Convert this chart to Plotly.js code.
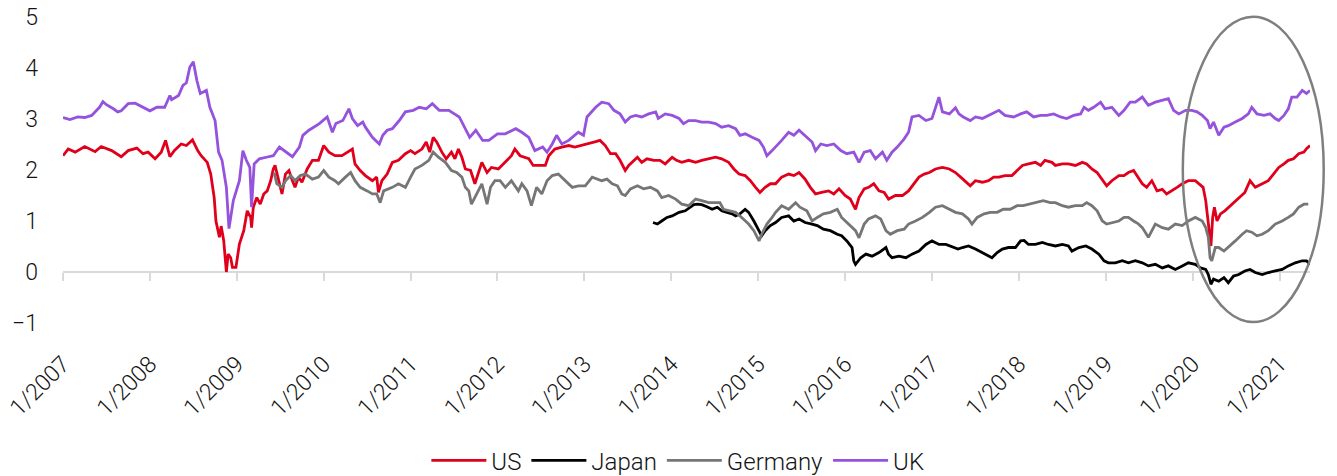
<!DOCTYPE html>
<html>
<head>
<meta charset="utf-8">
<script src="https://cdn.plot.ly/plotly-3.0.1.min.js"></script>
<style>
  html, body { margin: 0; padding: 0; background: #ffffff; }
  #chart { width: 1337px; height: 476px; }
</style>
</head>
<body>
<div id="chart"></div>
<script>
// ---- Tick labels ----
const yearTicks = [2007, 2008, 2009, 2010, 2011, 2012, 2013, 2014, 2015, 2016, 2017, 2018, 2019, 2020, 2021];
const yearTickLabels = ["1/2007", "1/2008", "1/2009", "1/2010", "1/2011", "1/2012", "1/2013", "1/2014", "1/2015", "1/2016", "1/2017", "1/2018", "1/2019", "1/2020", "1/2021"];
const yTicks = [-1, 0, 1, 2, 3, 4, 5];

// ---- US (time in decimal years, value) ----
const usTime = [2007.00, 2007.06, 2007.14, 2007.25, 2007.37, 2007.44, 2007.56, 2007.67, 2007.75, 2007.85, 2007.92, 2007.98,
  2008.06, 2008.13, 2008.18, 2008.23, 2008.28, 2008.36, 2008.42, 2008.49, 2008.55, 2008.59, 2008.66, 2008.70, 2008.74, 2008.76,
  2008.80, 2008.82, 2008.85, 2008.88, 2008.90, 2008.93, 2008.95, 2008.99, 2009.03, 2009.08, 2009.12, 2009.16, 2009.17, 2009.19,
  2009.23, 2009.27, 2009.31, 2009.35, 2009.39, 2009.42, 2009.44, 2009.48, 2009.52, 2009.56, 2009.60, 2009.64, 2009.67, 2009.71,
  2009.75, 2009.81, 2009.87, 2009.94, 2010.00, 2010.06, 2010.13, 2010.21, 2010.27, 2010.33, 2010.36, 2010.42, 2010.48, 2010.56,
  2010.61, 2010.63, 2010.67, 2010.73, 2010.79, 2010.86, 2010.94, 2011.00, 2011.05, 2011.13, 2011.18, 2011.22, 2011.26, 2011.30,
  2011.36, 2011.41, 2011.47, 2011.51, 2011.55, 2011.59, 2011.63, 2011.69, 2011.74, 2011.78, 2011.82, 2011.88, 2011.93, 2012.01,
  2012.09, 2012.16, 2012.20, 2012.26, 2012.36, 2012.41, 2012.47, 2012.55, 2012.59, 2012.66, 2012.74, 2012.82, 2012.89, 2012.97,
  2013.05, 2013.12, 2013.18, 2013.24, 2013.30, 2013.36, 2013.41, 2013.47, 2013.51, 2013.57, 2013.61, 2013.66, 2013.72, 2013.80,
  2013.87, 2013.93, 2014.01, 2014.06, 2014.12, 2014.20, 2014.28, 2014.35, 2014.43, 2014.51, 2014.58, 2014.66, 2014.72, 2014.78,
  2014.85, 2014.91, 2014.97, 2015.02, 2015.08, 2015.14, 2015.20, 2015.27, 2015.35, 2015.41, 2015.47, 2015.54, 2015.60, 2015.66,
  2015.73, 2015.81, 2015.87, 2015.93, 2016.00, 2016.06, 2016.12, 2016.16, 2016.22, 2016.27, 2016.33, 2016.39, 2016.45, 2016.50,
  2016.58, 2016.66, 2016.73, 2016.79, 2016.85, 2016.91, 2016.97, 2017.04, 2017.12, 2017.20, 2017.27, 2017.33, 2017.38, 2017.44,
  2017.50, 2017.58, 2017.65, 2017.71, 2017.77, 2017.84, 2017.92, 2017.98, 2018.04, 2018.11, 2018.19, 2018.25, 2018.30, 2018.38,
  2018.42, 2018.50, 2018.57, 2018.65, 2018.73, 2018.78, 2018.84, 2018.90, 2018.96, 2019.01, 2019.07, 2019.15, 2019.21, 2019.26,
  2019.32, 2019.38, 2019.42, 2019.47, 2019.53, 2019.59, 2019.65, 2019.70, 2019.76, 2019.82, 2019.88, 2019.95, 2020.03, 2020.09,
  2020.12, 2020.15, 2020.17, 2020.20, 2020.21, 2020.23, 2020.25, 2020.28, 2020.32, 2020.37, 2020.45, 2020.53, 2020.60, 2020.66,
  2020.72, 2020.80, 2020.87, 2020.93, 2020.99, 2021.05, 2021.10, 2021.16, 2021.22, 2021.28, 2021.31, 2021.35];
const usValue = [2.28, 2.41, 2.35, 2.46, 2.36, 2.46, 2.38, 2.26, 2.38, 2.43, 2.32, 2.35,
  2.22, 2.35, 2.58, 2.26, 2.38, 2.51, 2.48, 2.59, 2.38, 2.28, 2.15, 1.92, 1.46, 1.00,
  0.68, 0.90, 0.61, 0.00, 0.35, 0.28, 0.09, 0.09, 0.55, 0.81, 1.20, 1.07, 0.87, 1.27,
  1.46, 1.33, 1.53, 1.59, 1.79, 2.02, 2.09, 1.79, 1.53, 1.92, 1.99, 1.79, 1.66, 1.86,
  1.76, 2.02, 2.19, 2.19, 2.48, 2.35, 2.28, 2.28, 2.35, 2.41, 2.12, 1.99, 1.89, 1.79,
  1.86, 1.56, 1.79, 1.92, 2.15, 2.19, 2.32, 2.38, 2.32, 2.41, 2.55, 2.35, 2.64, 2.55,
  2.35, 2.22, 2.35, 2.22, 2.41, 2.25, 2.02, 1.99, 1.73, 1.92, 2.15, 1.95, 2.05, 2.02,
  2.15, 2.28, 2.41, 2.28, 2.22, 2.09, 2.09, 2.09, 2.28, 2.41, 2.45, 2.48, 2.45, 2.48,
  2.51, 2.55, 2.58, 2.48, 2.32, 2.32, 2.19, 1.99, 2.09, 2.19, 2.25, 2.15, 2.22, 2.19,
  2.19, 2.12, 2.25, 2.19, 2.15, 2.19, 2.15, 2.19, 2.22, 2.25, 2.22, 2.15, 2.02, 1.92,
  1.89, 1.79, 1.66, 1.56, 1.66, 1.73, 1.73, 1.86, 1.92, 1.89, 1.95, 1.82, 1.66, 1.53,
  1.56, 1.59, 1.53, 1.63, 1.50, 1.43, 1.23, 1.46, 1.63, 1.66, 1.73, 1.59, 1.56, 1.43,
  1.50, 1.50, 1.59, 1.73, 1.86, 1.92, 1.95, 2.02, 2.05, 2.02, 1.95, 1.86, 1.79, 1.69,
  1.79, 1.76, 1.79, 1.86, 1.86, 1.89, 1.89, 1.99, 2.09, 2.12, 2.15, 2.09, 2.19, 2.15,
  2.09, 2.12, 2.12, 2.09, 2.15, 2.12, 2.02, 1.95, 1.82, 1.69, 1.79, 1.89, 1.89, 1.95,
  1.99, 1.82, 1.73, 1.66, 1.79, 1.59, 1.62, 1.53, 1.59, 1.66, 1.73, 1.79, 1.79, 1.69,
  1.66, 1.40, 1.07, 0.61, 0.51, 1.07, 1.27, 1.00, 1.14, 1.20, 1.33, 1.46, 1.56, 1.79,
  1.66, 1.73, 1.79, 1.92, 2.05, 2.12, 2.19, 2.22, 2.32, 2.35, 2.42, 2.48];

// ---- Japan ----
const japanTime = [2013.79, 2013.84, 2013.89, 2013.95, 2014.01, 2014.09, 2014.16, 2014.22, 2014.26, 2014.30, 2014.35, 2014.41,
  2014.47, 2014.53, 2014.58, 2014.64, 2014.70, 2014.74, 2014.79, 2014.85, 2014.89, 2014.95, 2015.01, 2015.04, 2015.08, 2015.14,
  2015.20, 2015.27, 2015.35, 2015.41, 2015.47, 2015.54, 2015.62, 2015.68, 2015.75, 2015.83, 2015.91, 2015.96, 2016.02, 2016.08,
  2016.10, 2016.12, 2016.18, 2016.24, 2016.31, 2016.39, 2016.47, 2016.50, 2016.54, 2016.62, 2016.70, 2016.77, 2016.85, 2016.93,
  2017.00, 2017.08, 2017.16, 2017.24, 2017.30, 2017.35, 2017.42, 2017.50, 2017.58, 2017.65, 2017.69, 2017.75, 2017.81, 2017.88,
  2017.96, 2018.02, 2018.06, 2018.11, 2018.19, 2018.27, 2018.34, 2018.42, 2018.50, 2018.57, 2018.61, 2018.69, 2018.77, 2018.84,
  2018.92, 2018.98, 2019.03, 2019.11, 2019.19, 2019.26, 2019.34, 2019.42, 2019.49, 2019.57, 2019.65, 2019.72, 2019.80, 2019.88,
  2019.95, 2020.03, 2020.09, 2020.15, 2020.18, 2020.21, 2020.24, 2020.30, 2020.36, 2020.41, 2020.47, 2020.53, 2020.60, 2020.66,
  2020.72, 2020.80, 2020.87, 2020.95, 2021.03, 2021.10, 2021.18, 2021.26, 2021.31, 2021.35];
const japanValue = [0.97, 0.94, 1.00, 1.07, 1.10, 1.17, 1.20, 1.27, 1.32, 1.33, 1.32, 1.28,
  1.23, 1.27, 1.20, 1.17, 1.14, 1.10, 1.14, 1.23, 1.17, 1.00, 0.81, 0.71, 0.81, 0.91,
  0.97, 1.07, 1.10, 1.00, 1.04, 0.97, 0.94, 0.91, 0.84, 0.81, 0.74, 0.71, 0.61, 0.48,
  0.22, 0.15, 0.28, 0.35, 0.31, 0.38, 0.48, 0.35, 0.28, 0.31, 0.28, 0.35, 0.41, 0.54,
  0.61, 0.54, 0.54, 0.48, 0.45, 0.48, 0.51, 0.45, 0.38, 0.31, 0.28, 0.38, 0.45, 0.48,
  0.48, 0.61, 0.62, 0.54, 0.54, 0.58, 0.54, 0.51, 0.54, 0.51, 0.41, 0.48, 0.51, 0.45,
  0.35, 0.22, 0.18, 0.18, 0.22, 0.18, 0.22, 0.18, 0.12, 0.15, 0.08, 0.12, 0.05, 0.12,
  0.18, 0.15, 0.08, 0.05, -0.05, -0.24, -0.14, -0.18, -0.11, -0.21, -0.08, -0.05, 0.02, 0.05,
  -0.01, -0.05, -0.01, 0.02, 0.05, 0.12, 0.18, 0.22, 0.22, 0.15];

// ---- Germany ----
const germanyTime = [2009.43, 2009.46, 2009.52, 2009.56, 2009.62, 2009.67, 2009.73, 2009.79, 2009.87, 2009.94, 2010.00, 2010.06,
  2010.13, 2010.17, 2010.25, 2010.31, 2010.36, 2010.42, 2010.50, 2010.56, 2010.61, 2010.65, 2010.69, 2010.79, 2010.86, 2010.94,
  2011.00, 2011.05, 2011.13, 2011.21, 2011.26, 2011.32, 2011.40, 2011.44, 2011.47, 2011.53, 2011.59, 2011.63, 2011.67, 2011.70,
  2011.76, 2011.82, 2011.88, 2011.92, 2011.97, 2012.03, 2012.09, 2012.16, 2012.24, 2012.28, 2012.34, 2012.39, 2012.45, 2012.51,
  2012.57, 2012.63, 2012.70, 2012.78, 2012.86, 2012.93, 2013.01, 2013.09, 2013.13, 2013.20, 2013.26, 2013.32, 2013.38, 2013.43,
  2013.47, 2013.53, 2013.61, 2013.68, 2013.76, 2013.84, 2013.89, 2013.97, 2014.05, 2014.12, 2014.20, 2014.28, 2014.35, 2014.43,
  2014.51, 2014.56, 2014.60, 2014.66, 2014.74, 2014.81, 2014.89, 2014.95, 2015.01, 2015.04, 2015.10, 2015.16, 2015.20, 2015.27,
  2015.35, 2015.43, 2015.48, 2015.56, 2015.62, 2015.68, 2015.75, 2015.83, 2015.91, 2015.96, 2016.04, 2016.12, 2016.16, 2016.22,
  2016.27, 2016.35, 2016.41, 2016.47, 2016.52, 2016.60, 2016.68, 2016.73, 2016.81, 2016.89, 2016.97, 2017.04, 2017.12, 2017.20,
  2017.27, 2017.35, 2017.42, 2017.46, 2017.52, 2017.60, 2017.67, 2017.75, 2017.82, 2017.90, 2017.98, 2018.05, 2018.13, 2018.21,
  2018.28, 2018.36, 2018.42, 2018.50, 2018.57, 2018.65, 2018.73, 2018.78, 2018.84, 2018.90, 2018.96, 2019.01, 2019.07, 2019.15,
  2019.21, 2019.26, 2019.32, 2019.37, 2019.42, 2019.49, 2019.57, 2019.65, 2019.72, 2019.80, 2019.88, 2019.95, 2020.03, 2020.11,
  2020.15, 2020.18, 2020.20, 2020.22, 2020.26, 2020.30, 2020.36, 2020.41, 2020.49, 2020.57, 2020.62, 2020.68, 2020.74, 2020.80,
  2020.87, 2020.95, 2021.03, 2021.10, 2021.16, 2021.22, 2021.28, 2021.33];
const germanyValue = [1.95, 1.73, 1.66, 1.79, 1.89, 1.79, 1.89, 1.92, 1.82, 1.86, 1.99, 1.86,
  1.79, 1.73, 1.86, 1.95, 1.79, 1.66, 1.59, 1.53, 1.53, 1.36, 1.59, 1.66, 1.73, 1.66,
  1.86, 2.02, 2.09, 2.19, 2.35, 2.25, 2.15, 2.05, 1.99, 1.95, 1.86, 1.66, 1.59, 1.33,
  1.53, 1.73, 1.33, 1.66, 1.79, 1.79, 1.66, 1.79, 1.59, 1.73, 1.59, 1.30, 1.66, 1.53,
  1.79, 1.89, 1.92, 1.79, 1.66, 1.69, 1.69, 1.86, 1.84, 1.79, 1.82, 1.73, 1.69, 1.53,
  1.50, 1.63, 1.69, 1.63, 1.66, 1.59, 1.46, 1.50, 1.43, 1.33, 1.30, 1.43, 1.40, 1.36,
  1.36, 1.36, 1.23, 1.20, 1.17, 1.07, 0.94, 0.81, 0.61, 0.74, 0.94, 1.07, 1.17, 1.30,
  1.23, 1.36, 1.27, 1.20, 1.00, 1.07, 1.14, 1.17, 1.23, 1.07, 0.94, 0.81, 0.67, 0.94,
  1.04, 1.10, 1.04, 0.81, 0.74, 0.81, 0.84, 0.94, 1.00, 1.07, 1.17, 1.27, 1.30, 1.23,
  1.17, 1.14, 1.04, 0.94, 1.07, 1.14, 1.17, 1.17, 1.23, 1.23, 1.30, 1.30, 1.33, 1.36,
  1.40, 1.36, 1.36, 1.30, 1.27, 1.30, 1.30, 1.36, 1.30, 1.20, 1.00, 0.94, 0.97, 1.00,
  1.07, 1.07, 1.00, 0.95, 0.87, 0.68, 0.94, 0.87, 0.84, 0.94, 0.91, 1.00, 1.07, 1.00,
  0.87, 0.68, 0.28, 0.22, 0.48, 0.48, 0.41, 0.48, 0.61, 0.74, 0.81, 0.78, 0.71, 0.74,
  0.81, 0.94, 1.00, 1.07, 1.14, 1.27, 1.33, 1.33];

// ---- UK ----
const ukTime = [2007.00, 2007.08, 2007.17, 2007.25, 2007.33, 2007.42, 2007.46, 2007.50, 2007.58, 2007.63, 2007.67, 2007.75,
  2007.83, 2007.92, 2008.00, 2008.08, 2008.17, 2008.23, 2008.25, 2008.33, 2008.38, 2008.42, 2008.46, 2008.50, 2008.54, 2008.58,
  2008.65, 2008.69, 2008.73, 2008.75, 2008.79, 2008.83, 2008.88, 2008.91, 2008.96, 2009.03, 2009.07, 2009.11, 2009.15, 2009.17,
  2009.20, 2009.26, 2009.34, 2009.42, 2009.49, 2009.57, 2009.64, 2009.72, 2009.76, 2009.83, 2009.95, 2010.04, 2010.10, 2010.14,
  2010.22, 2010.29, 2010.33, 2010.39, 2010.45, 2010.48, 2010.56, 2010.64, 2010.68, 2010.73, 2010.79, 2010.87, 2010.94, 2011.03,
  2011.10, 2011.18, 2011.25, 2011.33, 2011.44, 2011.56, 2011.62, 2011.68, 2011.75, 2011.83, 2011.90, 2012.00, 2012.09, 2012.21,
  2012.28, 2012.36, 2012.43, 2012.52, 2012.57, 2012.63, 2012.68, 2012.74, 2012.82, 2012.93, 2012.99, 2013.03, 2013.13, 2013.20,
  2013.28, 2013.34, 2013.41, 2013.47, 2013.53, 2013.59, 2013.66, 2013.74, 2013.82, 2013.85, 2013.93, 2014.01, 2014.09, 2014.14,
  2014.20, 2014.28, 2014.35, 2014.43, 2014.51, 2014.58, 2014.66, 2014.74, 2014.79, 2014.85, 2014.93, 2015.01, 2015.06, 2015.10,
  2015.16, 2015.22, 2015.27, 2015.35, 2015.41, 2015.47, 2015.54, 2015.62, 2015.66, 2015.72, 2015.79, 2015.87, 2015.95, 2016.02,
  2016.10, 2016.16, 2016.22, 2016.29, 2016.35, 2016.43, 2016.48, 2016.54, 2016.60, 2016.68, 2016.73, 2016.77, 2016.85, 2016.93,
  2017.00, 2017.08, 2017.12, 2017.20, 2017.27, 2017.31, 2017.36, 2017.44, 2017.50, 2017.58, 2017.65, 2017.77, 2017.84, 2017.94,
  2018.02, 2018.09, 2018.17, 2018.25, 2018.32, 2018.40, 2018.48, 2018.55, 2018.63, 2018.71, 2018.75, 2018.80, 2018.86, 2018.94,
  2018.99, 2019.07, 2019.15, 2019.21, 2019.28, 2019.34, 2019.42, 2019.49, 2019.57, 2019.65, 2019.72, 2019.78, 2019.84, 2019.92,
  2019.99, 2020.05, 2020.11, 2020.17, 2020.20, 2020.24, 2020.30, 2020.36, 2020.41, 2020.49, 2020.57, 2020.64, 2020.68, 2020.74,
  2020.82, 2020.89, 2020.95, 2020.99, 2021.05, 2021.10, 2021.14, 2021.20, 2021.26, 2021.31, 2021.35];
const ukValue = [3.03, 2.99, 3.04, 3.03, 3.07, 3.23, 3.34, 3.28, 3.20, 3.14, 3.16, 3.30,
  3.31, 3.23, 3.16, 3.23, 3.23, 3.46, 3.38, 3.46, 3.66, 3.71, 4.02, 4.12, 3.76, 3.50,
  3.56, 3.23, 3.04, 2.97, 2.35, 2.19, 1.66, 0.85, 1.40, 1.79, 2.38, 2.19, 2.05, 1.27,
  2.12, 2.22, 2.25, 2.28, 2.45, 2.35, 2.26, 2.45, 2.68, 2.78, 2.91, 3.04, 2.74, 2.91,
  2.97, 3.20, 3.01, 2.87, 2.94, 2.84, 2.64, 2.51, 2.68, 2.78, 2.81, 2.97, 3.14, 3.17,
  3.23, 3.20, 3.30, 3.17, 3.17, 3.04, 2.84, 2.64, 2.78, 2.58, 2.58, 2.71, 2.71, 2.81,
  2.74, 2.64, 2.38, 2.45, 2.35, 2.51, 2.68, 2.51, 2.58, 2.74, 2.68, 3.04, 3.23, 3.33,
  3.30, 3.17, 3.10, 2.94, 3.04, 3.07, 3.04, 3.10, 3.14, 3.01, 3.10, 3.07, 3.01, 2.91,
  2.97, 2.97, 2.94, 2.94, 2.91, 2.84, 2.87, 2.81, 2.68, 2.71, 2.64, 2.58, 2.45, 2.28,
  2.38, 2.48, 2.58, 2.74, 2.68, 2.78, 2.68, 2.55, 2.38, 2.51, 2.48, 2.51, 2.38, 2.32,
  2.35, 2.15, 2.35, 2.38, 2.22, 2.35, 2.19, 2.35, 2.45, 2.61, 2.74, 3.04, 3.07, 2.97,
  3.01, 3.43, 3.14, 3.10, 3.22, 3.10, 3.04, 2.97, 3.04, 3.01, 3.07, 3.17, 3.07, 3.04,
  3.10, 3.14, 3.04, 3.07, 3.07, 3.10, 3.04, 3.01, 3.07, 3.10, 3.23, 3.17, 3.23, 3.33,
  3.20, 3.23, 3.07, 3.17, 3.33, 3.33, 3.43, 3.27, 3.33, 3.37, 3.40, 3.17, 3.10, 3.17,
  3.17, 3.14, 3.07, 2.97, 2.81, 2.94, 2.68, 2.84, 2.87, 2.94, 3.01, 3.10, 3.23, 3.10,
  3.07, 3.10, 3.01, 2.97, 3.07, 3.20, 3.43, 3.43, 3.56, 3.50, 3.56];

// ---- Series styling ----
const seriesNames = ["US", "Japan", "Germany", "UK"];
const seriesColors = ["#e0001b", "#000000", "#767676", "#9552dc"];
const seriesX = [usTime, japanTime, germanyTime, ukTime];
const seriesY = [usValue, japanValue, germanyValue, ukValue];

const traces = seriesNames.map((name, i) => ({
  type: "scatter",
  mode: "lines",
  name: name,
  x: seriesX[i],
  y: seriesY[i],
  line: { color: seriesColors[i], width: 2.8, shape: "linear" },
  xaxis: "x",
  yaxis: "y",
  hoverinfo: "skip"
}));

// Empty helper trace so the zero-level axis (x2) with year ticks is drawn
traces.unshift({
  type: "scatter",
  mode: "lines",
  x: [yearTicks[0], yearTicks[yearTicks.length - 1]],
  y: [null, null],
  xaxis: "x2",
  yaxis: "y",
  showlegend: false,
  hoverinfo: "skip"
});

const FONT = "Roboto, 'Liberation Sans', Arial, sans-serif";
const TEXT = "#141414";
const xRange = [2007, 2021.35];

const layout = {
  width: 1337,
  height: 476,
  paper_bgcolor: "#ffffff",
  plot_bgcolor: "#ffffff",
  margin: { l: 63, r: 27, t: 17, b: 153 },
  font: { family: FONT, color: TEXT, size: 22, weight: 300 },
  showlegend: true,
  legend: {
    orientation: "h",
    xref: "container", x: 0.507, xanchor: "center",
    yref: "container", y: 0.032, yanchor: "middle",
    font: { family: FONT, size: 24, color: TEXT, weight: 300 },
    itemwidth: 55,
    bgcolor: "rgba(0,0,0,0)"
  },
  xaxis: {
    range: xRange,
    tickvals: yearTicks,
    ticktext: yearTickLabels,
    tickangle: -45,
    ticks: "",
    ticklabelstandoff: 22,
    showline: false,
    showgrid: false,
    zeroline: false,
    tickfont: { family: FONT, size: 23, color: TEXT, weight: 300 },
    fixedrange: true
  },
  xaxis2: {
    overlaying: "x",
    anchor: "free",
    position: 1 / 6,
    range: xRange,
    tickvals: yearTicks,
    showticklabels: false,
    ticks: "outside",
    ticklen: 8,
    tickwidth: 2,
    tickcolor: "#d9d9d9",
    showline: true,
    linecolor: "#d9d9d9",
    linewidth: 2,
    showgrid: false,
    zeroline: false,
    layer: "below traces",
    fixedrange: true
  },
  yaxis: {
    range: [-1, 5],
    tickvals: yTicks,
    ticks: "",
    ticklabelstandoff: 24,
    showline: false,
    showgrid: false,
    zeroline: false,
    tickfont: { family: FONT, size: 23, color: TEXT, weight: 300 },
    fixedrange: true
  },
  shapes: [{
    type: "circle",
    xref: "paper", yref: "paper",
    x0: 0.898, x1: 1.011, y0: 0.003, y1: 1.001,
    line: { color: "#7f7f7f", width: 2.5 },
    fillcolor: "rgba(0,0,0,0)",
    layer: "above"
  }]
};

Plotly.newPlot("chart", traces, layout, { staticPlot: true, displayModeBar: false });
</script>
</body>
</html>
